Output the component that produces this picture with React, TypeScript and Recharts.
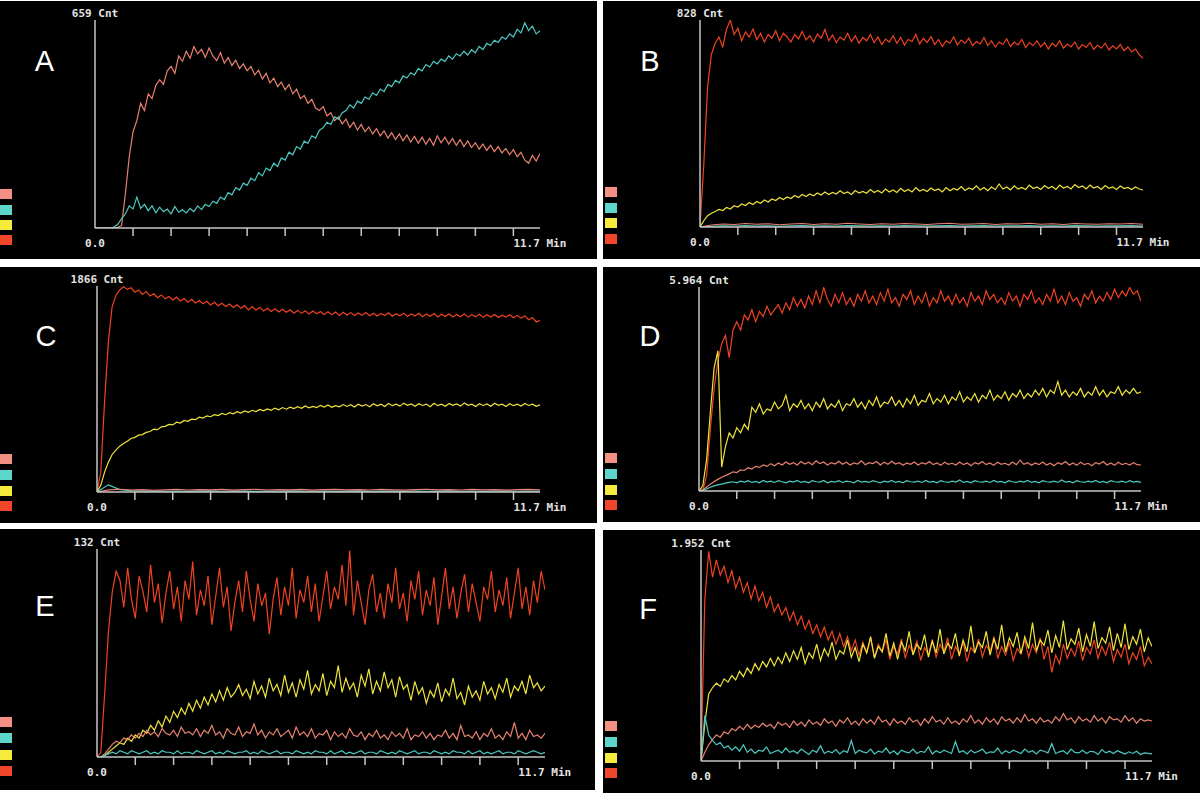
import React from 'react';
import { LineChart, Line, XAxis, YAxis } from 'recharts';

// ---------- time axis (minutes) ----------
const minutes = [
  0, 0.1, 0.2, 0.3, 0.4, 0.5, 0.6, 0.7, 0.8, 0.9,
  1, 1.1, 1.2, 1.3, 1.4, 1.5, 1.6, 1.7, 1.8, 1.9,
  2, 2.1, 2.2, 2.3, 2.4, 2.5, 2.6, 2.7, 2.8, 2.9,
  3, 3.1, 3.2, 3.3, 3.4, 3.5, 3.6, 3.7, 3.8, 3.9,
  4, 4.1, 4.2, 4.3, 4.4, 4.5, 4.6, 4.7, 4.8, 4.9,
  5, 5.1, 5.2, 5.3, 5.4, 5.5, 5.6, 5.7, 5.8, 5.9,
  6, 6.1, 6.2, 6.3, 6.4, 6.5, 6.6, 6.7, 6.8, 6.9,
  7, 7.1, 7.2, 7.3, 7.4, 7.5, 7.6, 7.7, 7.8, 7.9,
  8, 8.1, 8.2, 8.3, 8.4, 8.5, 8.6, 8.7, 8.8, 8.9,
  9, 9.1, 9.2, 9.3, 9.4, 9.5, 9.6, 9.7, 9.8, 9.9,
  10, 10.1, 10.2, 10.3, 10.4, 10.5, 10.6, 10.7, 10.8, 10.9,
  11, 11.1, 11.2, 11.3, 11.4, 11.5, 11.6, 11.7,
];
const minutesCoarse = [
  0, 0.3, 0.6, 0.9, 1.2, 1.5, 1.8, 2.1, 2.4, 2.7,
  3, 3.3, 3.6, 3.9, 4.2, 4.5, 4.8, 5.1, 5.4, 5.7,
  6, 6.3, 6.6, 6.9, 7.2, 7.5, 7.8, 8.1, 8.4, 8.7,
  9, 9.3, 9.6, 9.9, 10.2, 10.5, 10.8, 11.1, 11.4, 11.7,
];
const minuteTicks = [1, 2, 3, 4, 5, 6, 7, 8, 9, 10, 11];
const timeMax = 11.7;
const startLabel = '0.0';
const endLabel = '11.7 Min';

const panelLetters = ['A', 'B', 'C', 'D', 'E', 'F'];
const countLabels = ['659 Cnt', '828 Cnt', '1866 Cnt', '5.964 Cnt', '132 Cnt', '1.952 Cnt'];
const countMax = [659, 828, 1866, 5964, 132, 1952];

// ---------- Panel A ----------
const aSalmon = [
  0, 0, 0, 0, 0, 0, 2, 8, 110, 225,
  305, 340, 395, 372, 425, 410, 452, 470, 455, 498,
  512, 490, 545, 528, 560, 538, 575, 552, 566, 540,
  570, 545, 530, 556, 522, 540, 515, 532, 505, 520,
  498, 512, 485, 500, 472, 490, 460, 475, 448, 462,
  438, 455, 425, 440, 410, 420, 395, 408, 380, 372,
  385, 355, 365, 340, 352, 330, 345, 318, 335, 310,
  328, 305, 320, 298, 315, 292, 308, 285, 302, 280,
  298, 276, 295, 272, 290, 268, 288, 265, 284, 262,
  292, 270, 288, 266, 284, 262, 280, 258, 276, 255,
  270, 250, 266, 246, 262, 242, 258, 238, 252, 232,
  248, 226, 240, 215, 205, 230, 212, 235,
];
const aCyan = [
  0, 0, 0, 0, 0, 3, 12, 30, 45, 70,
  60, 98, 62, 75, 55, 70, 48, 66, 52, 60,
  45, 68, 50, 58, 48, 62, 52, 70, 58, 75,
  68, 85, 78, 98, 90, 112, 105, 128, 120, 142,
  135, 158, 150, 175, 165, 190, 182, 205, 195, 222,
  215, 240, 232, 258, 250, 275, 268, 292, 285, 310,
  318, 335, 328, 352, 345, 365, 372, 390, 380, 402,
  395, 415, 408, 428, 420, 440, 432, 455, 448, 468,
  460, 482, 475, 492, 485, 505, 498, 518, 510, 528,
  520, 535, 528, 545, 535, 552, 545, 560, 548, 565,
  555, 575, 565, 585, 578, 595, 588, 605, 598, 615,
  605, 630, 618, 650, 625, 640, 615, 625,
];

// ---------- Panel B ----------
const bRed = [
  0, 250, 560, 690, 735, 760, 720, 790, 828, 770,
  795, 745, 780, 760, 792, 750, 775, 740, 770, 755,
  785, 745, 775, 760, 740, 770, 752, 782, 748, 765,
  740, 772, 755, 790, 745, 768, 738, 760, 748, 775,
  742, 765, 735, 758, 745, 770, 738, 760, 730, 752,
  740, 765, 735, 758, 728, 750, 742, 770, 732, 755,
  738, 762, 730, 750, 722, 745, 735, 760, 728, 748,
  735, 755, 725, 742, 732, 758, 726, 745, 720, 740,
  730, 752, 722, 740, 728, 750, 718, 738, 725, 745,
  720, 738, 712, 735, 722, 745, 715, 732, 720, 740,
  712, 730, 718, 738, 710, 728, 715, 735, 708, 725,
  712, 730, 705, 720, 700, 712, 690, 675,
];
const bYellow = [
  0, 25, 45, 55, 62, 70, 66, 78, 72, 85,
  80, 92, 86, 98, 90, 102, 95, 108, 100, 112,
  106, 118, 110, 120, 114, 126, 118, 130, 122, 132,
  125, 136, 128, 140, 130, 138, 132, 145, 134, 140,
  130, 146, 136, 142, 135, 150, 138, 146, 136, 152,
  140, 148, 138, 155, 142, 150, 140, 158, 144, 150,
  142, 156, 146, 152, 140, 158, 145, 154, 148, 162,
  146, 156, 150, 165, 148, 158, 145, 160, 150, 172,
  152, 160, 148, 165, 152, 158, 150, 168, 154, 160,
  150, 166, 155, 162, 150, 168, 156, 162, 152, 170,
  158, 164, 152, 168, 156, 162, 150, 166, 155, 160,
  150, 164, 154, 158, 150, 160, 152, 148,
];
const bSalmon = [
  0, 8, 12, 10, 14, 11, 13, 9, 12, 14,
  10, 13, 11, 15, 12, 10, 13, 11, 14, 12,
  10, 13, 15, 11, 12, 14, 10, 13, 12, 15,
  11, 13, 10, 14, 12, 11, 13, 12, 14, 11,
];
const bCyan = [
  0, 3, 5, 4, 6, 4, 5, 3, 5, 6,
  4, 5, 4, 6, 5, 4, 5, 4, 6, 5,
  4, 5, 6, 4, 5, 6, 4, 5, 5, 6,
  4, 5, 4, 6, 5, 4, 5, 5, 6, 4,
];

// ---------- Panel C ----------
const cRed = [
  0, 180, 820, 1360, 1680, 1780, 1830, 1860, 1835, 1850,
  1810, 1830, 1790, 1815, 1775, 1795, 1760, 1785, 1750, 1770,
  1740, 1765, 1730, 1752, 1720, 1745, 1712, 1735, 1705, 1728,
  1695, 1718, 1688, 1710, 1680, 1702, 1672, 1695, 1665, 1688,
  1650, 1680, 1648, 1672, 1640, 1665, 1636, 1660, 1630, 1655,
  1628, 1650, 1620, 1645, 1618, 1642, 1612, 1640, 1615, 1635,
  1608, 1632, 1605, 1630, 1600, 1628, 1604, 1625, 1598, 1622,
  1600, 1626, 1596, 1620, 1594, 1618, 1598, 1624, 1592, 1615,
  1596, 1620, 1590, 1612, 1594, 1618, 1588, 1612, 1592, 1616,
  1586, 1610, 1590, 1614, 1585, 1608, 1588, 1612, 1584, 1606,
  1588, 1610, 1582, 1605, 1585, 1608, 1580, 1602, 1584, 1606,
  1578, 1600, 1575, 1595, 1560, 1580, 1540, 1555,
];
const cYellow = [
  0, 60, 180, 270, 340, 380, 415, 440, 460, 485,
  495, 515, 520, 540, 548, 570, 565, 590, 595, 612,
  608, 632, 625, 648, 640, 660, 655, 678, 670, 690,
  682, 700, 692, 712, 700, 718, 708, 728, 715, 735,
  722, 740, 728, 748, 735, 752, 740, 760, 745, 765,
  750, 768, 755, 772, 758, 780, 762, 775, 765, 785,
  770, 788, 768, 782, 772, 792, 775, 790, 770, 795,
  778, 792, 772, 800, 780, 795, 775, 802, 782, 796,
  778, 805, 785, 798, 776, 800, 784, 796, 772, 804,
  782, 795, 776, 802, 785, 798, 778, 806, 786, 796,
  774, 800, 784, 798, 776, 804, 785, 795, 775, 800,
  782, 796, 778, 802, 784, 795, 776, 790,
];
const cSalmon = [
  0, 20, 25, 18, 22, 16, 20, 24, 18, 22,
  19, 23, 17, 21, 25, 18, 22, 20, 24, 17,
  21, 23, 19, 22, 18, 24, 20, 17, 22, 25,
  19, 21, 18, 23, 20, 22, 17, 21, 24, 20,
];
const cCyan = [
  0, 65, 22, 12, 8, 10, 7, 9, 6, 8,
  10, 7, 9, 8, 6, 9, 7, 10, 8, 7,
  9, 6, 8, 10, 7, 9, 8, 6, 9, 7,
  8, 10, 7, 9, 6, 8, 9, 7, 8, 7,
];

// ---------- Panel D ----------
const dRed = [
  0, 0, 450, 1800, 3000, 3800, 4300, 4550, 3900, 4700,
  4950, 4700, 5150, 5000, 5300, 4950, 5250, 5100, 5400, 5150,
  5300, 5450, 5200, 5500, 5300, 5650, 5400, 5600, 5350, 5700,
  5450, 5850, 5500, 5950, 5600, 5400, 5750, 5500, 5800, 5450,
  5650, 5400, 5750, 5550, 5850, 5500, 5700, 5450, 5800, 5550,
  5900, 5500, 5650, 5400, 5750, 5600, 5850, 5450, 5700, 5500,
  5800, 5400, 5650, 5500, 5850, 5550, 5700, 5450, 5750, 5500,
  5650, 5400, 5800, 5550, 5700, 5450, 5850, 5600, 5750, 5500,
  5650, 5450, 5800, 5550, 5700, 5400, 5750, 5600, 5850, 5500,
  5650, 5450, 5750, 5550, 5900, 5500, 5700, 5450, 5800, 5550,
  5650, 5400, 5750, 5600, 5850, 5500, 5700, 5550, 5800, 5600,
  5900, 5650, 5850, 5700, 5950, 5750, 5850, 5550,
];
const dYellow = [
  0, 150, 900, 2300, 3600, 4100, 700, 1300, 1700, 1550,
  1850, 1700, 1950, 1800, 2450, 2300, 2550, 2250, 2400, 2350,
  2600, 2400, 2500, 2800, 2350, 2550, 2450, 2650, 2400, 2550,
  2350, 2600, 2450, 2700, 2400, 2550, 2450, 2650, 2350, 2550,
  2500, 2700, 2450, 2600, 2400, 2650, 2500, 2750, 2450, 2600,
  2550, 2750, 2500, 2650, 2450, 2700, 2550, 2800, 2500, 2650,
  2600, 2850, 2550, 2700, 2600, 2800, 2550, 2750, 2650, 2900,
  2600, 2750, 2650, 2850, 2600, 2800, 2700, 2950, 2650, 2800,
  2700, 2900, 2650, 2850, 2750, 2950, 2700, 2850, 2750, 2950,
  2800, 3000, 2750, 2950, 2850, 3200, 2800, 2950, 2750, 2900,
  2800, 3000, 2750, 2900, 2800, 3050, 2800, 2950, 2750, 2900,
  2850, 3050, 2800, 2950, 2850, 3000, 2850, 2900,
];
const dSalmon = [
  0, 40, 110, 200, 280, 340, 400, 450, 500, 560,
  540, 620, 600, 680, 640, 720, 690, 760, 720, 800,
  740, 820, 760, 850, 780, 830, 760, 860, 790, 840,
  770, 880, 800, 850, 760, 830, 790, 870, 780, 840,
  760, 820, 790, 880, 770, 830, 800, 860, 760, 840,
  780, 870, 790, 830, 750, 820, 780, 850, 760, 830,
  790, 860, 770, 820, 750, 840, 780, 810, 760, 850,
  770, 820, 740, 830, 790, 860, 770, 820, 750, 840,
  780, 810, 760, 850, 770, 900, 780, 830, 750, 820,
  770, 850, 760, 810, 740, 830, 780, 860, 760, 820,
  750, 840, 770, 810, 740, 830, 790, 860, 760, 820,
  750, 840, 770, 810, 760, 830, 770, 760,
];
const dCyan = [
  0, 20, 60, 110, 150, 180, 200, 230, 250, 270,
  240, 290, 260, 300, 250, 280, 240, 310, 260, 290,
  250, 300, 270, 240, 290, 260, 310, 250, 280, 240,
  300, 270, 260, 310, 240, 280, 260, 300, 250, 290,
  270, 240, 310, 260, 280, 250, 300, 270, 240, 290,
  260, 310, 250, 280, 240, 300, 270, 260, 290, 250,
  310, 260, 280, 240, 300, 270, 250, 290, 260, 320,
  250, 280, 240, 300, 270, 260, 290, 250, 310, 260,
  280, 240, 300, 270, 250, 290, 260, 310, 250, 280,
  240, 300, 270, 260, 290, 250, 320, 260, 280, 240,
  300, 270, 250, 290, 260, 310, 250, 280, 240, 300,
  270, 260, 290, 250, 300, 260, 280, 250,
];

// ---------- Panel E ----------
const eRed = [
  0, 3, 40, 80, 105, 118, 112, 95, 120, 100,
  88, 115, 105, 92, 122, 98, 110, 85, 104, 118,
  94, 108, 86, 112, 100, 124, 90, 106, 96, 115,
  84, 102, 120, 95, 108, 80, 98, 112, 92, 118,
  100, 86, 110, 96, 104, 78, 100, 114, 90, 108,
  96, 120, 88, 106, 98, 115, 92, 110, 86, 102,
  118, 94, 108, 100, 122, 96, 131, 90, 112, 98,
  84, 106, 116, 92, 104, 88, 110, 98, 120, 94,
  104, 86, 112, 100, 118, 90, 106, 96, 114, 84,
  102, 120, 94, 108, 88, 104, 116, 92, 110, 98,
  86, 108, 100, 118, 92, 106, 96, 114, 88, 104,
  120, 94, 108, 90, 112, 98, 118, 106,
];
const eYellow = [
  0, 0, 1, 3, 5, 7, 9, 8, 12, 10,
  14, 12, 17, 15, 20, 17, 23, 19, 26, 22,
  29, 25, 31, 27, 34, 29, 36, 31, 38, 33,
  40, 35, 42, 36, 44, 38, 41, 46, 39, 43,
  37, 48, 40, 45, 38, 50, 42, 46, 39, 52,
  41, 47, 38, 49, 43, 55, 40, 46, 42, 53,
  39, 48, 44, 58, 41, 50, 43, 47, 38, 52,
  45, 56, 40, 48, 42, 54, 44, 49, 38, 51,
  43, 46, 36, 48, 40, 44, 34, 42, 38, 47,
  35, 43, 39, 50, 37, 41, 33, 45, 38, 42,
  36, 48, 40, 44, 37, 46, 41, 50, 38, 45,
  42, 48, 40, 52, 44, 47, 42, 45,
];
const eSalmon = [
  0, 0, 2, 5, 8, 10, 9, 12, 11, 14,
  12, 15, 13, 17, 14, 16, 13, 18, 15, 14,
  17, 13, 19, 15, 16, 14, 18, 13, 17, 15,
  20, 14, 16, 12, 18, 15, 14, 19, 13, 16,
  15, 21, 14, 17, 12, 16, 14, 18, 13, 15,
  17, 12, 19, 14, 16, 13, 18, 12, 15, 14,
  17, 11, 16, 13, 15, 12, 18, 14, 13, 16,
  11, 15, 13, 17, 12, 14, 11, 16, 13, 15,
  12, 18, 11, 14, 13, 16, 12, 15, 11, 14,
  13, 17, 12, 15, 11, 20, 13, 14, 12, 16,
  11, 15, 13, 18, 12, 14, 11, 16, 13, 22,
  12, 15, 11, 17, 13, 14, 12, 15,
];
const eCyan = [
  0, 0, 1, 2, 3, 2, 4, 3, 2, 4,
  3, 2, 3, 4, 2, 3, 2, 4, 3, 3,
  2, 4, 2, 3, 3, 2, 4, 3, 2, 3,
  4, 2, 3, 2, 4, 3, 2, 3, 3, 4,
  2, 3, 2, 4, 3, 2, 3, 4, 2, 3,
  3, 2, 4, 3, 2, 3, 2, 4, 3, 3,
  2, 4, 2, 3, 4, 2, 3, 2, 3, 4,
  2, 3, 3, 2, 4, 3, 2, 3, 2, 4,
  3, 2, 3, 4, 2, 3, 3, 2, 4, 3,
  2, 3, 2, 4, 3, 3, 2, 4, 2, 3,
  4, 2, 3, 2, 3, 4, 2, 3, 3, 2,
  4, 3, 2, 3, 4, 3, 2, 3,
];

// ---------- Panel F ----------
const fRed = [
  0, 1500, 1940, 1700, 1860, 1720, 1800, 1650, 1760, 1600,
  1700, 1560, 1650, 1500, 1620, 1480, 1560, 1420, 1520, 1380,
  1450, 1350, 1420, 1300, 1380, 1260, 1340, 1220, 1300, 1180,
  1260, 1150, 1240, 1120, 1200, 1080, 1180, 1060, 1150, 1020,
  1120, 980, 1100, 1000, 1140, 960, 1080, 1010, 1120, 940,
  1060, 990, 1130, 950, 1070, 1000, 1110, 930, 1050, 980,
  1120, 960, 1080, 1010, 1140, 940, 1060, 990, 1100, 920,
  1050, 1000, 1130, 960, 1070, 1010, 1150, 950, 1060, 980,
  1100, 930, 1040, 990, 1120, 960, 1080, 1000, 1140, 940,
  1060, 820, 980, 900, 1080, 950, 1040, 970, 1110, 930,
  1050, 990, 1120, 950, 1060, 980, 1100, 920, 1030, 960,
  1080, 900, 1000, 940, 1060, 880, 960, 900,
];
const fYellow = [
  0, 350, 620, 680, 720, 690, 760, 730, 790, 750,
  830, 780, 860, 810, 900, 840, 920, 870, 950, 880,
  960, 900, 1000, 920, 1020, 940, 1050, 900, 1000, 950,
  1080, 930, 1040, 970, 1100, 940, 1020, 990, 1120, 960,
  1050, 920, 1080, 1000, 1150, 950, 1060, 1010, 1180, 970,
  1090, 940, 1100, 1020, 1200, 980, 1080, 1030, 1170, 960,
  1110, 1000, 1220, 990, 1090, 1040, 1180, 970, 1120, 1010,
  1250, 1000, 1100, 1050, 1200, 980, 1130, 1030, 1260, 1010,
  1140, 1060, 1190, 990, 1150, 1040, 1280, 1020, 1120, 1070,
  1210, 1000, 1160, 1050, 1300, 1030, 1130, 1080, 1230, 1010,
  1170, 1060, 1290, 1040, 1140, 1090, 1240, 1020, 1180, 1050,
  1270, 1030, 1150, 1080, 1220, 1010, 1140, 1060,
];
const fSalmon = [
  0, 80, 150, 200, 240, 220, 270, 250, 300, 280,
  320, 290, 340, 300, 330, 310, 350, 320, 340, 300,
  360, 330, 350, 310, 370, 330, 360, 320, 380, 340,
  360, 330, 390, 350, 370, 320, 380, 350, 400, 340,
  370, 330, 390, 350, 380, 340, 410, 360, 380, 330,
  390, 350, 370, 340, 400, 360, 380, 330, 390, 350,
  410, 360, 380, 340, 400, 350, 370, 340, 390, 360,
  420, 350, 380, 340, 400, 360, 390, 340, 410, 370,
  390, 350, 400, 360, 430, 370, 390, 350, 400, 360,
  380, 350, 410, 370, 440, 380, 400, 350, 410, 370,
  390, 360, 420, 370, 400, 350, 410, 380, 390, 360,
  420, 370, 400, 350, 390, 370, 380, 370,
];
const fCyan = [
  0, 420, 240, 190, 150, 170, 120, 140, 100, 130,
  90, 150, 80, 110, 70, 100, 90, 130, 70, 85,
  100, 75, 120, 80, 95, 70, 110, 85, 60, 100,
  80, 140, 70, 90, 75, 105, 65, 95, 80, 190,
  70, 100, 85, 75, 110, 65, 90, 80, 120, 70,
  95, 60, 100, 85, 75, 110, 70, 90, 80, 130,
  65, 95, 75, 100, 85, 70, 180, 80, 95, 65,
  100, 75, 90, 110, 70, 85, 80, 120, 65, 95,
  75, 100, 85, 70, 110, 80, 95, 65, 100, 90,
  75, 160, 70, 85, 95, 65, 110, 80, 75, 100,
  70, 90, 85, 60, 105, 75, 90, 70, 95, 80,
  65, 85, 70, 90, 60, 75, 70, 65,
];

// ---------- styling ----------
const LINE = { salmon: '#e9826f', cyan: '#4ccac2', yellow: '#eee43c', red: '#ef4322' };
const LEGEND = ['#f39083', '#5dd6cc', '#f6ea3c', '#f2462c'];
const AXIS = '#c6c6c6';

type Series = { key: string; values: number[]; color: string; coarse?: boolean };
type Geo = {
  box: { left: number; top: number; width: number; height: number };
  plot: { l: number; t: number; r: number; b: number };
  letter: [number, number];
  legendX: number;
  legendTops: number[];
};

const geos: Geo[] = [
  { box: { left: 0, top: 1, width: 597, height: 258 }, plot: { l: 95, t: 20, r: 540, b: 228 }, letter: [44.5, 60.5], legendX: 0, legendTops: [189, 205, 220, 235] },
  { box: { left: 603, top: 1, width: 597, height: 258 }, plot: { l: 700, t: 20, r: 1143, b: 227 }, letter: [650, 60.5], legendX: 605, legendTops: [187, 203, 218, 234] },
  { box: { left: 0, top: 267, width: 597, height: 256 }, plot: { l: 97, t: 286, r: 540, b: 492 }, letter: [46, 335.5], legendX: 0, legendTops: [454, 470, 486, 501] },
  { box: { left: 603, top: 267, width: 597, height: 255 }, plot: { l: 699, t: 287, r: 1141, b: 491 }, letter: [650, 335.5], legendX: 605, legendTops: [453, 469, 485, 500] },
  { box: { left: 0, top: 529, width: 595, height: 261 }, plot: { l: 97, t: 549, r: 545, b: 757 }, letter: [45, 605.5], legendX: 0, legendTops: [717, 733, 750, 766] },
  { box: { left: 603, top: 530, width: 597, height: 263 }, plot: { l: 701, t: 550, r: 1152, b: 761 }, letter: [648, 608.5], legendX: 605, legendTops: [721, 737, 753, 768] },
];

const panelSeries: Series[][] = [
  [
    { key: 'salmon', values: aSalmon, color: LINE.salmon },
    { key: 'cyan', values: aCyan, color: LINE.cyan },
  ],
  [
    { key: 'red', values: bRed, color: LINE.red },
    { key: 'yellow', values: bYellow, color: LINE.yellow },
    { key: 'cyan', values: bCyan, color: LINE.cyan, coarse: true },
    { key: 'salmon', values: bSalmon, color: LINE.salmon, coarse: true },
  ],
  [
    { key: 'red', values: cRed, color: LINE.red },
    { key: 'yellow', values: cYellow, color: LINE.yellow },
    { key: 'cyan', values: cCyan, color: LINE.cyan, coarse: true },
    { key: 'salmon', values: cSalmon, color: LINE.salmon, coarse: true },
  ],
  [
    { key: 'red', values: dRed, color: LINE.red },
    { key: 'yellow', values: dYellow, color: LINE.yellow },
    { key: 'salmon', values: dSalmon, color: LINE.salmon },
    { key: 'cyan', values: dCyan, color: LINE.cyan },
  ],
  [
    { key: 'red', values: eRed, color: LINE.red },
    { key: 'yellow', values: eYellow, color: LINE.yellow },
    { key: 'salmon', values: eSalmon, color: LINE.salmon },
    { key: 'cyan', values: eCyan, color: LINE.cyan },
  ],
  [
    { key: 'red', values: fRed, color: LINE.red },
    { key: 'yellow', values: fYellow, color: LINE.yellow },
    { key: 'salmon', values: fSalmon, color: LINE.salmon },
    { key: 'cyan', values: fCyan, color: LINE.cyan },
  ],
];

function buildTable(times: number[], series: Series[]) {
  return times.map((t, i) => {
    const row: Record<string, number> = { t };
    series.forEach((s) => {
      if (s.values[i] !== undefined) row[s.key] = s.values[i];
    });
    return row;
  });
}

const monoText: React.CSSProperties = {
  position: 'absolute',
  fontFamily: '"DejaVu Sans Mono", monospace',
  fontWeight: 'bold',
  fontSize: 11,
  lineHeight: '11px',
  color: '#e4e4e4',
  whiteSpace: 'nowrap',
};

const emptyLabel = () => '';

function Panel({ idx }: { idx: number }) {
  const g = geos[idx];
  const { left, top, width, height } = g.box;
  const AXW = 10;
  const AXH = 10;
  const margin = {
    top: g.plot.t - top,
    left: g.plot.l - left - AXW,
    right: left + width - g.plot.r,
    bottom: top + height - g.plot.b - AXH,
  };
  const series = panelSeries[idx];
  const fine = series.filter((s) => !s.coarse);
  const table = buildTable(minutes, fine);
  const pxPerMin = (g.plot.r - g.plot.l) / timeMax;
  const tick11 = g.plot.l + 11 * pxPerMin;

  return (
    <div style={{ position: 'absolute', left, top, width, height, background: '#000', overflow: 'hidden' }}>
      <LineChart width={width} height={height} data={table} margin={margin}>
        <XAxis
          type="number"
          dataKey="t"
          domain={[0, timeMax]}
          ticks={minuteTicks}
          interval={0}
          tick={{ fill: 'transparent', fontSize: 1 }}
          tickFormatter={emptyLabel}
          tickLine={{ stroke: AXIS, strokeWidth: 1.5 }}
          tickSize={8}
          height={AXH}
          stroke={AXIS}
          strokeWidth={1.5}
          allowDataOverflow
        />
        <YAxis
          type="number"
          domain={[0, countMax[idx]]}
          width={AXW}
          tick={false}
          tickLine={false}
          stroke={AXIS}
          strokeWidth={1.5}
          allowDataOverflow
        />
        {series.map((s) =>
          s.coarse ? (
            <Line
              key={s.key}
              data={buildTable(minutesCoarse, [s])}
              dataKey={s.key}
              type="linear"
              stroke={s.color}
              strokeWidth={1.2}
              dot={false}
              isAnimationActive={false}
            />
          ) : (
            <Line
              key={s.key}
              dataKey={s.key}
              type="linear"
              stroke={s.color}
              strokeWidth={1.2}
              dot={false}
              isAnimationActive={false}
            />
          )
        )}
      </LineChart>

      <div
        style={{
          position: 'absolute',
          left: g.letter[0] - left,
          top: g.letter[1] - top,
          transform: 'translate(-50%, -50%)',
          fontFamily: '"Liberation Sans", Arial, sans-serif',
          fontSize: 29,
          lineHeight: '29px',
          color: '#ffffff',
        }}
      >
        {panelLetters[idx]}
      </div>

      <div style={{ ...monoText, left: g.plot.l - left, top: g.plot.t - top - 12.5, transform: 'translateX(-50%)' }}>
        {countLabels[idx]}
      </div>
      <div style={{ ...monoText, left: g.plot.l - left, top: g.plot.b - top + 10, transform: 'translateX(-50%)' }}>
        {startLabel}
      </div>
      <div style={{ ...monoText, left: tick11 - left, top: g.plot.b - top + 10 }}>{endLabel}</div>

      {LEGEND.map((c, k) => (
        <div
          key={k}
          style={{
            position: 'absolute',
            left: g.legendX - left,
            top: g.legendTops[k] - top,
            width: 12,
            height: 10,
            background: c,
          }}
        />
      ))}
    </div>
  );
}

export default function App() {
  return (
    <div style={{ position: 'absolute', left: 0, top: 0, width: 1200, height: 793, background: '#ffffff' }}>
      {geos.map((_, i) => (
        <Panel key={i} idx={i} />
      ))}
    </div>
  );
}
